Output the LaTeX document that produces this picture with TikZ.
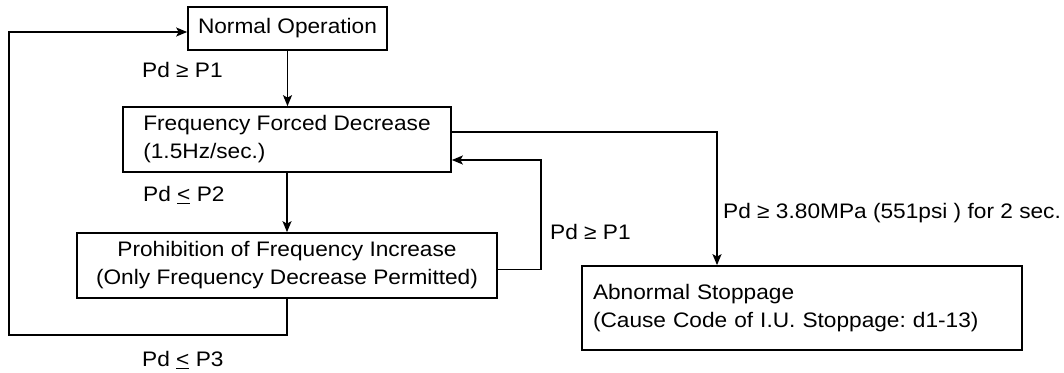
\documentclass[tikz,border=0pt]{standalone}
\usepackage{fontspec}
\setmainfont{Liberation Sans}[FakeStretch=1.08]
\frenchspacing
\usetikzlibrary{arrows.meta,calc}
\tikzset{
  box/.style={draw, line width=1.7pt, inner sep=0pt, align=center, font=\fontsize{21}{28}\selectfont},
  lbl/.style={anchor=west, inner sep=0pt, font=\fontsize{21}{28}\selectfont},
  conn/.style={line width=1.5pt, -{Stealth[length=11pt,width=9pt,inset=2.5pt]}}
}
\begin{document}
\begin{tikzpicture}[x=1pt,y=-1pt]
\useasboundingbox (0,0) rectangle (1064,372);
\node[box, minimum width=199pt, minimum height=43pt] (norm) at (287.5,28.5) {Normal Operation};
\node[box, minimum width=328pt, minimum height=65pt, align=left] (ffd) at (287,139.5) {Frequency Forced Decrease\\(1.5Hz/sec.)};
\node[box, minimum width=420pt, minimum height=65pt] (proh) at (287,265.5) {Prohibition of Frequency Increase\\(Only Frequency Decrease Permitted)};
\node[box, minimum width=440pt, minimum height=84pt, text width=418pt, align=left] (abn) at (802,308) {Abnormal Stoppage\\(Cause Code of I.U. Stoppage: d1-13)};

\node[lbl] (l1) at (142,70) {Pd ≥ P1};
\node[lbl] (l2) at (143,195) {Pd \underline{<} P2};
\node[lbl] (l3) at (550,232) {Pd ≥ P1};
\node[lbl] (l4) at (723,213) {Pd ≥ 3.80MPa (551psi ) for 2 sec.};
\node[lbl] (l5) at (142,360) {Pd \underline{<} P3};

\coordinate (bl) at (9,335);
\coordinate (rr) at (541,160);
\coordinate (ab) at (717,132);

\draw[conn] (norm.south) -- (norm.south |- ffd.north);
\draw[conn] (ffd.south) -- (ffd.south |- proh.north);
\draw[conn] (proh.south) |- (bl) |- ([yshift=-3.5pt]norm.west);
\draw[conn] ([yshift=-4pt]proh.east) -| (rr) -- (rr -| ffd.east);
\draw[conn] ([yshift=7.5pt]ffd.east) -| (ab |- abn.north);
\end{tikzpicture}
\end{document}
